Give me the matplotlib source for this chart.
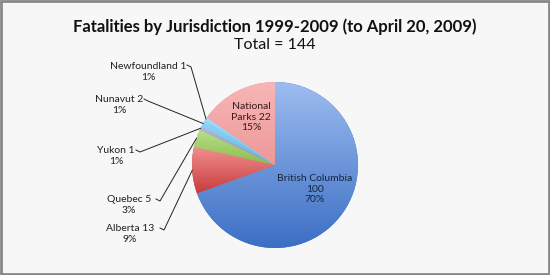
import numpy as np
import matplotlib.pyplot as plt
import matplotlib.colors as mcolors

# Fatalities by jurisdiction, clockwise from 12 o'clock
jurisdictions = ['British Columbia', 'Alberta', 'Quebec', 'Yukon', 'Nunavut',
                 'Newfoundland', 'National Parks']
fatalities = [100, 13, 5, 1, 2, 1, 22]
percents = ['70%', '9%', '3%', '1%', '1%', '1%', '15%']
total = 144

# top / bottom colours of each wedge's gradient
tops = ['#9dbcf0', '#f29090', '#b8e08a', '#b8b8d4', '#94d6f6', '#a6dcf6', '#f7b6b6']
bottoms = ['#3c6fc4', '#c83c3c', '#8cbc50', '#9090b0', '#5cb4e6', '#74c4ee', '#ee9898']

plt.rcParams['font.family'] = ['Lato', 'DejaVu Sans']

fig = plt.figure(figsize=(5.5, 2.75), dpi=100, facecolor='#f7f7f7')
ax = fig.add_axes([0, 0, 1, 1])

W, H = 550, 275
cx, cy, r = 275, H - 165, 83

wedges, _ = ax.pie(fatalities, startangle=90, counterclock=False,
                   center=(cx, cy), radius=r, colors=bottoms,
                   wedgeprops=dict(linewidth=0), frame=True)
ax.set_xlim(0, W)
ax.set_ylim(0, H)
ax.axis('off')

# vertical gradient inside each wedge
for w, top, bot in zip(wedges, tops, bottoms):
    bb = w.get_path().get_extents()
    c1 = np.array(mcolors.to_rgb(top))
    c2 = np.array(mcolors.to_rgb(bot))
    t = np.linspace(0, 1, 64)[:, None]
    img = (c1 * (1 - t) + c2 * t)[:, None, :]
    im = ax.imshow(img, extent=(bb.x0, bb.x1, bb.y0, bb.y1), origin='upper',
                   aspect='auto', zorder=2, interpolation='bilinear')
    im.set_clip_path(w)

# titles
ax.text(W / 2, H - 27, 'Fatalities by Jurisdiction 1999-2009 (to April 20, 2009)',
        ha='center', va='center', fontsize=12, fontweight='bold', color='#111111')
ax.text(W / 2, H - 45, f'Total = {total}', ha='center', va='center',
        fontsize=11.5, color='#111111')

# inside labels
ax.text(315, H - 189, f'{jurisdictions[0]}\n{fatalities[0]}\n{percents[0]}',
        ha='center', va='center', fontsize=7.5, color='#16243f', linespacing=1.25, zorder=3)
ax.text(251, H - 117, f'National\nParks {fatalities[6]}\n{percents[6]}',
        ha='center', va='center', fontsize=7.5, color='#3a1a1a', linespacing=1.25, zorder=3)

# outside labels with leader lines: (index, text centre, line start)
outside = [
    (5, (148, 72), (187, 65)),
    (4, (119, 105), (144, 99)),
    (3, (116, 156), (136, 150)),
    (2, (129, 205), (156, 199)),
    (1, (130, 234), (160, 228)),
]
for i, (tx, ty), (sx, sy) in outside:
    w = wedges[i]
    mid = np.deg2rad((w.theta1 + w.theta2) / 2)
    ex, ey = cx + r * np.cos(mid), cy + r * np.sin(mid)
    ax.text(tx, H - ty, f'{jurisdictions[i]} {fatalities[i]}\n{percents[i]}',
            ha='center', va='center', fontsize=7.5, color='#222222', linespacing=1.35)
    ax.plot([sx, sx + 4, ex], [H - sy, H - sy - 2, ey], color='#222222', lw=0.7, zorder=4)

# grey frame
ax.add_patch(plt.Rectangle((1, 1), W - 2, H - 2, fill=False, edgecolor='#888888', lw=2, zorder=5))

fig.savefig('out.png', dpi=100, facecolor=fig.get_facecolor())
